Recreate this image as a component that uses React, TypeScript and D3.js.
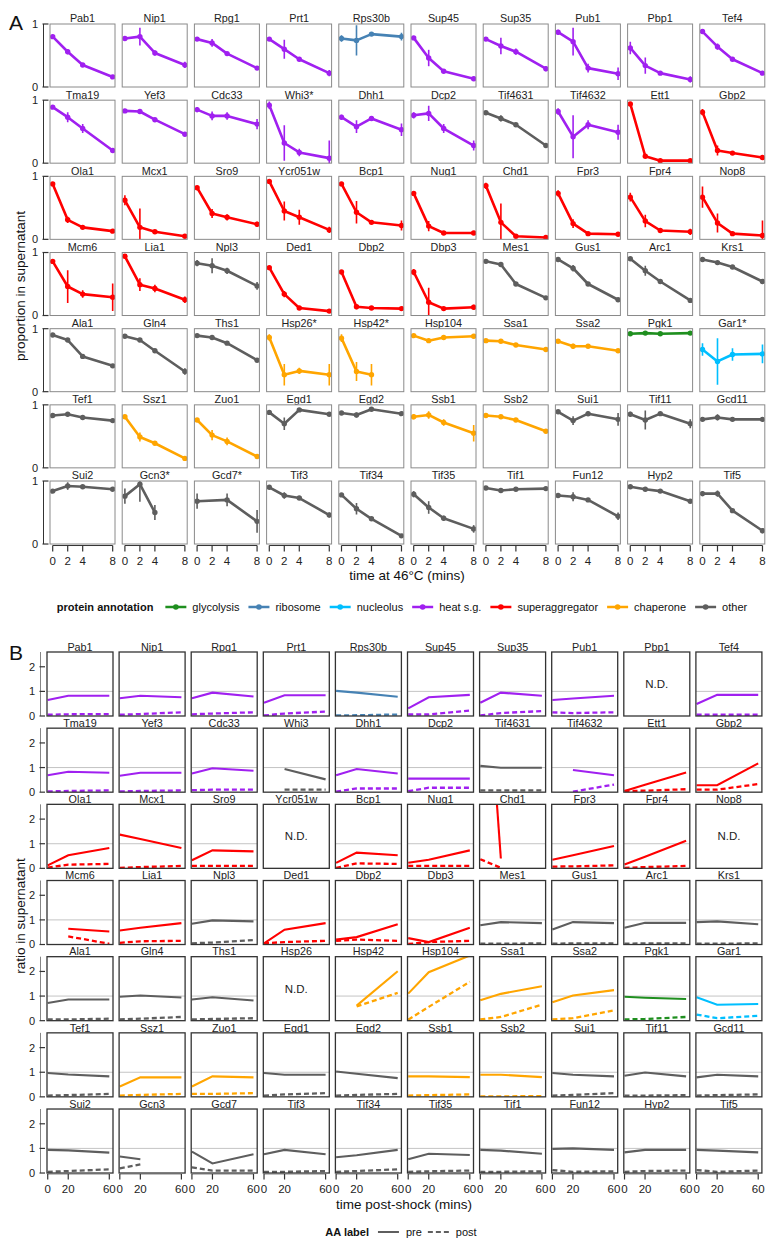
import React, { useEffect, useRef } from 'react';
import * as d3 from 'd3';

const W = 767;
const H = 1239;
const FONT = '"Liberation Sans", Arial, Helvetica, sans-serif';

// annotation legend
const annotationNames = ['glycolysis', 'ribosome', 'nucleolus', 'heat s.g.', 'superaggregator', 'chaperone', 'other'];
const annotationColors = ['#1f8f1f', '#4682b4', '#00bfff', '#a020f0', '#ff0000', '#ffa500', '#5e5e5e'];
// G glycolysis, R ribosome, N nucleolus, H heat s.g., S superaggregator, C chaperone, O other
const annotationCode: Record<string, number> = { G: 0, R: 1, N: 2, H: 3, S: 4, C: 5, O: 6 };

const namesA = [
  'Pab1', 'Nip1', 'Rpg1', 'Prt1', 'Rps30b', 'Sup45', 'Sup35', 'Pub1', 'Pbp1', 'Tef4',
  'Tma19', 'Yef3', 'Cdc33', 'Whi3*', 'Dhh1', 'Dcp2', 'Tif4631', 'Tif4632', 'Ett1', 'Gbp2',
  'Ola1', 'Mcx1', 'Sro9', 'Ycr051w', 'Bcp1', 'Nug1', 'Chd1', 'Fpr3', 'Fpr4', 'Nop8',
  'Mcm6', 'Lia1', 'Npl3', 'Ded1', 'Dbp2', 'Dbp3', 'Mes1', 'Gus1', 'Arc1', 'Krs1',
  'Ala1', 'Gln4', 'Ths1', 'Hsp26*', 'Hsp42*', 'Hsp104', 'Ssa1', 'Ssa2', 'Pgk1', 'Gar1*',
  'Tef1', 'Ssz1', 'Zuo1', 'Egd1', 'Egd2', 'Ssb1', 'Ssb2', 'Sui1', 'Tif11', 'Gcd11',
  'Sui2', 'Gcn3*', 'Gcd7*', 'Tif3', 'Tif34', 'Tif35', 'Tif1', 'Fun12', 'Hyp2', 'Tif5',
];
const namesB = namesA.map(n => n.replace('*', ''));

const annotA = 'HHHHRHHHHH' + 'HHHHHHOHSS' + 'SSSSSSSSSS' + 'SSOSSSOOOO' + 'OOOCCCCCGN' + 'OCCOOCCOOO' + 'OOOOOOOOOO';
const annotB = 'HHHHRHHHHH' + 'HHHOHHOHSS' + 'SSSSSSSSSS' + 'SSOSSSOOOO' + 'OOOCCCCCGN' + 'OCCOOCCOOO' + 'OOOOOOOOOO';

// panel A: proportion in supernatant at 46°C
const timesA = [0, 2, 4, 8];
const propMean: (number | null)[][] = [
  [0.80, 0.56, 0.35, 0.16], [0.77, 0.80, 0.54, 0.35], [0.76, 0.70, 0.53, 0.30], [0.76, 0.60, 0.44, 0.22], [0.77, 0.74, 0.84, 0.80],
  [0.78, 0.46, 0.25, 0.13], [0.76, 0.65, 0.56, 0.29], [0.87, 0.72, 0.30, 0.21], [0.62, 0.34, 0.22, 0.12], [0.88, 0.64, 0.44, 0.22],
  [0.89, 0.73, 0.55, 0.20], [0.83, 0.82, 0.69, 0.46], [0.85, 0.75, 0.75, 0.62], [0.92, 0.32, 0.17, 0.08], [0.73, 0.58, 0.71, 0.53],
  [0.76, 0.79, 0.55, 0.28], [0.80, 0.71, 0.61, 0.28], [0.82, 0.42, 0.61, 0.49], [0.94, 0.11, 0.04, 0.04], [0.81, 0.20, 0.16, 0.09],
  [0.88, 0.31, 0.19, 0.13], [0.62, 0.19, 0.12, 0.05], [0.82, 0.41, 0.35, 0.24], [0.92, 0.45, 0.35, 0.15], [0.88, 0.43, 0.27, 0.22],
  [0.73, 0.21, 0.10, 0.10], [0.85, 0.27, 0.05, 0.03], [0.73, 0.25, 0.09, 0.08], [0.67, 0.29, 0.14, 0.12], [0.67, 0.26, 0.09, 0.06],
  [0.86, 0.46, 0.34, 0.29], [0.94, 0.49, 0.43, 0.25], [0.83, 0.79, 0.71, 0.47], [0.76, 0.34, 0.12, 0.07], [0.69, 0.14, 0.12, 0.11],
  [0.69, 0.21, 0.11, 0.13], [0.86, 0.81, 0.50, 0.28], [0.89, 0.75, 0.50, 0.25], [0.90, 0.71, 0.54, 0.24], [0.89, 0.84, 0.77, 0.54],
  [0.90, 0.82, 0.56, 0.41], [0.88, 0.82, 0.65, 0.32], [0.89, 0.86, 0.77, 0.50], [0.86, 0.27, 0.33, 0.27], [0.85, 0.32, 0.27, null],
  [0.89, 0.81, 0.86, 0.88], [0.81, 0.80, 0.74, 0.67], [0.80, 0.72, 0.72, 0.65], [0.92, 0.93, 0.92, 0.93], [0.67, 0.48, 0.59, 0.60],
  [0.83, 0.85, 0.80, 0.75], [0.81, 0.49, 0.39, 0.15], [0.76, 0.52, 0.42, 0.18], [0.88, 0.70, 0.92, 0.85], [0.87, 0.84, 0.93, 0.86],
  [0.81, 0.84, 0.72, 0.55], [0.83, 0.81, 0.76, 0.58], [0.89, 0.75, 0.86, 0.77], [0.85, 0.76, 0.86, 0.70], [0.77, 0.80, 0.77, 0.77],
  [0.84, 0.92, 0.91, 0.87], [0.76, 0.95, 0.50, null], [0.68, null, 0.70, 0.36], [0.90, 0.77, 0.73, 0.46], [0.78, 0.56, 0.40, 0.13],
  [0.79, 0.58, 0.41, 0.24], [0.89, 0.85, 0.87, 0.88], [0.77, 0.75, 0.70, 0.44], [0.91, 0.87, 0.84, 0.68], [0.80, 0.80, 0.53, 0.21],
];
const propErr: (number | null)[][] = [
  [0.03, 0.04, 0.02, 0.02], [0.03, 0.14, 0.04, 0.05], [0.02, 0.06, 0.02, 0.02], [0.03, 0.15, 0.03, 0.05], [0.05, 0.24, 0.02, 0.06],
  [0.02, 0.13, 0.02, 0.02], [0.03, 0.13, 0.05, 0.04], [0.04, 0.22, 0.07, 0.10], [0.10, 0.13, 0.03, 0.05], [0.02, 0.05, 0.02, 0.02],
  [0.02, 0.08, 0.07, 0.02], [0.02, 0.02, 0.02, 0.02], [0.04, 0.07, 0.06, 0.08], [0.06, 0.28, 0.06, 0.28], [0.04, 0.10, 0.03, 0.10],
  [0.05, 0.12, 0.07, 0.08], [0.02, 0.05, 0.02, 0.02], [0.05, 0.34, 0.07, 0.12], [0.02, 0.02, 0.01, 0.02], [0.05, 0.08, 0.02, 0.02],
  [0.02, 0.05, 0.02, 0.02], [0.08, 0.30, 0.03, 0.02], [0.02, 0.07, 0.05, 0.04], [0.02, 0.15, 0.12, 0.05], [0.03, 0.18, 0.02, 0.08],
  [0.03, 0.08, 0.02, 0.02], [0.05, 0.30, 0.02, 0.02], [0.05, 0.07, 0.02, 0.02], [0.07, 0.10, 0.02, 0.05], [0.17, 0.15, 0.02, 0.24],
  [0.03, 0.26, 0.06, 0.22], [0.02, 0.10, 0.06, 0.05], [0.05, 0.12, 0.05, 0.06], [0.02, 0.05, 0.02, 0.02], [0.03, 0.04, 0.02, 0.02],
  [0.05, 0.23, 0.02, 0.04], [0.02, 0.02, 0.02, 0.02], [0.02, 0.05, 0.02, 0.02], [0.02, 0.08, 0.04, 0.02], [0.02, 0.02, 0.02, 0.02],
  [0.02, 0.02, 0.02, 0.02], [0.02, 0.02, 0.02, 0.05], [0.02, 0.02, 0.02, 0.02], [0.05, 0.17, 0.05, 0.17], [0.06, 0.15, 0.17, null],
  [0.02, 0.03, 0.02, 0.02], [0.02, 0.02, 0.02, 0.02], [0.02, 0.04, 0.02, 0.02], [0.02, 0.02, 0.02, 0.02], [0.10, 0.37, 0.10, 0.15],
  [0.02, 0.02, 0.02, 0.02], [0.02, 0.07, 0.02, 0.02], [0.02, 0.08, 0.06, 0.02], [0.02, 0.10, 0.02, 0.02], [0.02, 0.04, 0.02, 0.02],
  [0.04, 0.06, 0.05, 0.13], [0.02, 0.02, 0.02, 0.02], [0.02, 0.07, 0.04, 0.10], [0.04, 0.15, 0.02, 0.07], [0.02, 0.05, 0.02, 0.02],
  [0.02, 0.06, 0.02, 0.02], [0.12, 0.28, 0.12, null], [0.12, null, 0.10, 0.18], [0.02, 0.05, 0.02, 0.04], [0.02, 0.09, 0.02, 0.02],
  [0.05, 0.10, 0.04, 0.06], [0.02, 0.02, 0.02, 0.02], [0.03, 0.07, 0.02, 0.06], [0.02, 0.03, 0.02, 0.03], [0.04, 0.05, 0.03, 0.04],
];

// panel B: ratio in supernatant post-shock, pre-existing vs newly made; null rows = N.D.
const timesB = [0, 20, 60];
const preRatio: (number | null)[][] = [
  [0.65, 0.82, 0.82], [0.72, 0.82, 0.76], [0.72, 0.95, 0.79], [0.54, 0.84, 0.84], [1.02, 0.95, 0.78],
  [0.31, 0.76, 0.86], [0.54, 0.95, 0.82], [0.65, 0.71, 0.82], [null, null, null], [0.49, 0.86, 0.86],
  [0.69, 0.83, 0.79], [0.67, 0.79, 0.79], [0.76, 0.97, 0.87], [null, 0.94, 0.52], [0.69, 0.94, 0.76],
  [0.55, 0.55, 0.55], [1.07, 0.99, 0.99], [null, 0.90, 0.69], [0.05, 0.30, 0.80], [0.28, 0.28, 1.17],
  [0.12, 0.53, 0.83], [1.37, 1.19, 0.83], [0.33, 0.73, 0.69], [null, null, null], [0.22, 0.64, 0.53],
  [0.23, 0.35, 0.73], [12.0, 0.40, null], [0.35, 0.53, 0.91], [0.16, 0.47, 1.12], [null, null, null],
  [null, 0.64, 0.53], [0.57, 0.68, 0.87], [0.84, 0.98, 0.94], [0.05, 0.60, 0.87], [0.20, 0.30, 0.82],
  [0.26, 0.10, 0.68], [0.78, 0.91, 0.87], [0.61, 0.91, 0.87], [0.68, 0.88, 0.88], [0.91, 0.94, 0.82],
  [0.72, 0.86, 0.86], [0.97, 1.02, 0.94], [0.86, 0.95, 0.82], [null, null, null], [null, 0.61, 2.01],
  [1.10, 1.97, 2.65], [0.83, 1.09, 1.40], [0.75, 1.02, 1.24], [0.97, 0.93, 0.88], [0.95, 0.65, 0.68],
  [0.97, 0.91, 0.83], [0.42, 0.79, 0.79], [0.42, 0.83, 0.79], [0.97, 0.90, 0.90], [1.03, 0.94, 0.76],
  [0.83, 0.83, 0.80], [0.90, 0.90, 0.80], [0.97, 0.90, 0.83], [0.86, 0.99, 0.83], [0.79, 0.90, 0.83],
  [0.94, 0.92, 0.83], [0.67, 0.56, null], [0.87, 0.39, 0.76], [0.76, 0.94, 0.76], [0.64, 0.72, 0.94],
  [0.56, 0.78, 0.73], [0.94, 0.91, 0.78], [0.98, 1.00, 0.94], [0.84, 0.94, 0.94], [0.94, 0.91, 0.84],
];
const postRatio: (number | null)[][] = [
  [0.05, 0.07, 0.08], [0.05, 0.08, 0.15], [0.07, 0.10, 0.15], [0.02, 0.10, 0.18], [0.02, 0.03, 0.06],
  [0.06, 0.06, 0.22], [0.02, 0.12, 0.20], [0.15, 0.12, 0.15], [null, null, null], [0.05, 0.05, 0.05],
  [0.03, 0.05, 0.07], [0.03, 0.05, 0.07], [0.08, 0.10, 0.10], [null, 0.10, 0.10], [0.02, 0.15, 0.15],
  [0.04, 0.18, 0.18], [0.07, 0.07, 0.07], [null, 0.02, 0.31], [0.05, 0.06, 0.12], [0.10, 0.10, 0.33],
  [0.03, 0.15, 0.18], [0.02, 0.05, 0.10], [0.10, 0.10, 0.10], [null, null, null], [0.02, 0.20, 0.18],
  [0.10, 0.10, 0.10], [0.37, 0.02, null], [0.07, 0.08, 0.12], [0.02, 0.05, 0.10], [null, null, null],
  [null, 0.33, 0.03], [0.07, 0.13, 0.15], [0.05, 0.08, 0.18], [0.05, 0.10, 0.15], [0.15, 0.20, 0.15],
  [0.02, 0.10, 0.15], [0.03, 0.03, 0.05], [0.03, 0.05, 0.05], [0.03, 0.05, 0.05], [0.03, 0.03, 0.05],
  [0.05, 0.05, 0.08], [0.05, 0.08, 0.15], [0.05, 0.07, 0.10], [null, null, null], [null, 0.58, 1.13],
  [0.04, 0.56, 1.58], [0.05, 0.15, 0.65], [0.05, 0.10, 0.42], [0.05, 0.07, 0.15], [0.25, 0.10, 0.20],
  [0.05, 0.07, 0.12], [0.05, 0.08, 0.12], [0.12, 0.12, 0.15], [0.05, 0.10, 0.15], [0.05, 0.08, 0.12],
  [0.05, 0.07, 0.10], [0.02, 0.02, 0.03], [0.05, 0.08, 0.15], [0.05, 0.05, 0.07], [0.05, 0.07, 0.10],
  [0.05, 0.08, 0.15], [0.19, 0.35, null], [0.23, 0.10, 0.10], [0.05, 0.05, 0.08], [0.05, 0.08, 0.15],
  [0.05, 0.07, 0.10], [0.05, 0.05, 0.07], [0.12, 0.05, 0.07], [0.05, 0.08, 0.10], [0.12, 0.05, 0.10],
];

const ticksA = [0, 1];
const ticksB = [0, 1, 2];
const labelLegendA = 'protein annotation';
const labelLegendB = 'AA label';
const aaLabels = ['pre', 'post'];

type Sel = d3.Selection<SVGGElement, unknown, null, undefined>;

function colorOf(code: string) {
  return annotationColors[annotationCode[code]];
}

function drawPanelA(root: Sel) {
  const pw = 65, ph = 63;
  const colX = (c: number) => 50 + c * 72.2;
  const rowY = (r: number) => 24 + r * 76.17;
  const x = d3.scaleLinear().domain([-0.36, 8.31]).range([0, pw]);
  const y = d3.scaleLinear().domain([0, 1]).range([ph, 0]);
  const line = d3.line<{ t: number; v: number }>().x(d => x(d.t)).y(d => y(d.v));

  root.append('defs').append('clipPath').attr('id', 'clipA')
    .append('rect').attr('width', pw).attr('height', ph);

  root.append('text').attr('x', 9).attr('y', 30).attr('font-size', 21).attr('fill', '#111').text('A');

  namesA.forEach((name, k) => {
    const r = Math.floor(k / 10), c = k % 10;
    const color = colorOf(annotA[k]);
    const g = root.append('g').attr('transform', `translate(${colX(c)},${rowY(r)})`);
    g.append('text').attr('x', pw / 2).attr('y', -1.6).attr('text-anchor', 'middle')
      .attr('font-size', 10.8).attr('fill', '#222').text(name);
    g.append('rect').attr('width', pw).attr('height', ph).attr('fill', '#fff');

    const pts = timesA.map((t, i) => ({ t, v: propMean[k][i] as number, e: (propErr[k][i] ?? 0) as number }))
      .filter(d => d.v != null);
    const m = g.append('g').attr('clip-path', 'url(#clipA)');
    m.selectAll('line').data(pts).join('line')
      .attr('x1', d => x(d.t)).attr('x2', d => x(d.t))
      .attr('y1', d => y(d.v - d.e)).attr('y2', d => y(d.v + d.e))
      .attr('stroke', color).attr('stroke-width', 1.6);
    m.append('path').attr('d', line(pts)).attr('fill', 'none').attr('stroke', color)
      .attr('stroke-width', 2.6).attr('stroke-linejoin', 'round');
    m.selectAll('circle').data(pts).join('circle')
      .attr('cx', d => x(d.t)).attr('cy', d => y(d.v)).attr('r', 2.7).attr('fill', color);
    g.append('rect').attr('width', pw).attr('height', ph).attr('fill', 'none')
      .attr('stroke', '#8a8a8a').attr('stroke-width', 1);

    if (c === 0) {
      const ax = g.append('g');
      ax.append('line').attr('x1', -6.5).attr('x2', -6.5).attr('y1', y(0)).attr('y2', y(1))
        .attr('stroke', '#333').attr('stroke-width', 1);
      ticksA.forEach(t => {
        ax.append('line').attr('x1', -7.5).attr('x2', -1.5).attr('y1', y(t)).attr('y2', y(t))
          .attr('stroke', '#333').attr('stroke-width', 1.2);
        ax.append('text').attr('x', -12).attr('y', y(t)).attr('dy', '0.36em').attr('text-anchor', 'end')
          .attr('font-size', 11).attr('fill', '#222').text(t);
      });
    }
    if (r === 6) {
      const ax = g.append('g').attr('transform', `translate(0,${ph + 1.5})`);
      ax.append('line').attr('x1', x(0)).attr('x2', x(8)).attr('stroke', '#333').attr('stroke-width', 1);
      timesA.forEach(t => {
        ax.append('line').attr('x1', x(t)).attr('x2', x(t)).attr('y1', 0).attr('y2', 6)
          .attr('stroke', '#333').attr('stroke-width', 1.2);
        ax.append('text').attr('x', x(t)).attr('y', 19.5).attr('text-anchor', 'middle')
          .attr('font-size', 11.5).attr('fill', '#222').text(t);
      });
    }
  });

  root.append('text').attr('x', 407).attr('y', 580).attr('text-anchor', 'middle')
    .attr('font-size', 13.5).attr('fill', '#111').text('time at 46°C (mins)');
  root.append('text').attr('transform', 'translate(20,286) rotate(-90)').attr('text-anchor', 'middle')
    .attr('dy', '0.35em').attr('font-size', 13.5).attr('fill', '#111').text('proportion in supernatant');

  // legend
  const lg = root.append('g');
  let cx = 0;
  const title = lg.append('text').attr('x', 0).attr('y', 0).attr('dy', '0.35em').attr('font-size', 11)
    .attr('font-weight', 'bold').attr('fill', '#111').text(labelLegendA);
  cx += (title.node() as SVGTextElement).getComputedTextLength() + 12;
  annotationNames.forEach((nm, i) => {
    lg.append('line').attr('x1', cx).attr('x2', cx + 21).attr('stroke', annotationColors[i]).attr('stroke-width', 2.5);
    lg.append('circle').attr('cx', cx + 10.5).attr('cy', 0).attr('r', 2.8).attr('fill', annotationColors[i]);
    cx += 27;
    const t = lg.append('text').attr('x', cx).attr('y', 0).attr('dy', '0.35em').attr('font-size', 11)
      .attr('fill', '#111').text(nm);
    cx += (t.node() as SVGTextElement).getComputedTextLength() + 9;
  });
  cx -= 9;
  lg.attr('transform', `translate(${402 - cx / 2},607)`);
}

function drawPanelB(root: Sel) {
  const pw = 66, ph = 64;
  const colX = (c: number) => 47 + c * 72.1;
  const rowY = (r: number) => 652 + r * 76.17;
  const x = d3.scaleLinear().domain([-0.7, 63.6]).range([0, pw]);
  const y = d3.scaleLinear().domain([0, 2.6]).range([ph, 0]);
  const line = d3.line<{ t: number; v: number }>().x(d => x(d.t)).y(d => y(d.v));

  root.append('defs').append('clipPath').attr('id', 'clipB')
    .append('rect').attr('width', pw).attr('height', ph);

  root.append('text').attr('x', 9).attr('y', 660).attr('font-size', 21).attr('fill', '#111').text('B');

  namesB.forEach((name, k) => {
    const r = Math.floor(k / 10), c = k % 10;
    const color = colorOf(annotB[k]);
    const g = root.append('g').attr('transform', `translate(${colX(c)},${rowY(r)})`);
    g.append('text').attr('x', pw / 2).attr('y', -1.2).attr('text-anchor', 'middle')
      .attr('font-size', 10.8).attr('fill', '#222').text(name);
    g.append('rect').attr('width', pw).attr('height', ph).attr('fill', '#fff');

    const nd = preRatio[k].every(v => v == null);
    if (nd) {
      g.append('text').attr('x', pw / 2).attr('y', ph / 2).attr('dy', '0.35em').attr('text-anchor', 'middle')
        .attr('font-size', 11.5).attr('fill', '#222').text('N.D.');
    } else {
      g.append('line').attr('x1', 0).attr('x2', pw).attr('y1', y(1)).attr('y2', y(1))
        .attr('stroke', '#c4c4c4').attr('stroke-width', 1);
      const m = g.append('g').attr('clip-path', 'url(#clipB)');
      [preRatio, postRatio].forEach((series, si) => {
        const pts = timesB.map((t, i) => ({ t, v: series[k][i] as number })).filter(d => d.v != null);
        m.append('path').attr('d', line(pts)).attr('fill', 'none').attr('stroke', color)
          .attr('stroke-width', si === 1 ? 2.3 : 2.1).attr('stroke-dasharray', si === 1 ? '5,3' : null);
      });
    }
    g.append('rect').attr('width', pw).attr('height', ph).attr('fill', 'none')
      .attr('stroke', '#333').attr('stroke-width', 1.3);

    if (c === 0) {
      const ax = g.append('g');
      ax.append('line').attr('x1', -6.5).attr('x2', -6.5).attr('y1', 0).attr('y2', ph)
        .attr('stroke', '#666').attr('stroke-width', 0.8);
      ticksB.forEach(t => {
        ax.append('line').attr('x1', -7.5).attr('x2', -2).attr('y1', y(t)).attr('y2', y(t))
          .attr('stroke', '#333').attr('stroke-width', 1.2);
        ax.append('text').attr('x', -12).attr('y', y(t)).attr('dy', '0.36em').attr('text-anchor', 'end')
          .attr('font-size', 11).attr('fill', '#222').text(t);
      });
    }
    if (r === 6) {
      const ax = g.append('g').attr('transform', `translate(0,${ph + 1})`);
      ax.append('line').attr('x1', x(0)).attr('x2', x(60)).attr('stroke', '#666').attr('stroke-width', 0.8);
      timesB.forEach(t => {
        ax.append('line').attr('x1', x(t)).attr('x2', x(t)).attr('y1', 0).attr('y2', 5.5)
          .attr('stroke', '#333').attr('stroke-width', 1.2);
        ax.append('text').attr('x', x(t)).attr('y', 18.5).attr('text-anchor', 'middle')
          .attr('font-size', 11.5).attr('fill', '#222').text(t);
      });
    }
  });

  root.append('text').attr('x', 404).attr('y', 1209).attr('text-anchor', 'middle')
    .attr('font-size', 13.5).attr('fill', '#111').text('time post-shock (mins)');
  root.append('text').attr('transform', 'translate(20,916) rotate(-90)').attr('text-anchor', 'middle')
    .attr('dy', '0.35em').attr('font-size', 13.5).attr('fill', '#111').text('ratio in supernatant');

  // legend
  const lg = root.append('g');
  let cx = 0;
  const title = lg.append('text').attr('x', 0).attr('y', 0).attr('dy', '0.35em').attr('font-size', 11)
    .attr('font-weight', 'bold').attr('fill', '#111').text(labelLegendB);
  cx += (title.node() as SVGTextElement).getComputedTextLength() + 9;
  aaLabels.forEach((lab, i) => {
    lg.append('line').attr('x1', cx).attr('x2', cx + 21).attr('stroke', '#5e5e5e').attr('stroke-width', 2)
      .attr('stroke-dasharray', i === 1 ? '5,3' : null);
    cx += 28;
    const t = lg.append('text').attr('x', cx).attr('y', 0).attr('dy', '0.35em').attr('font-size', 11)
      .attr('fill', '#111').text(lab);
    cx += (t.node() as SVGTextElement).getComputedTextLength() + 6;
  });
  cx -= 6;
  lg.attr('transform', `translate(${401 - cx / 2},1232)`);
}

export default function App() {
  const svgRef = useRef<SVGSVGElement>(null);

  useEffect(() => {
    document.body.style.margin = '0';
    const svg = d3.select(svgRef.current);
    svg.selectAll('*').remove();
    const root = svg.append('g') as unknown as Sel;
    drawPanelA(root);
    drawPanelB(root);
  }, []);

  return (
    <svg ref={svgRef} width={W} height={H} style={{ display: 'block', background: '#fff' }} fontFamily={FONT} />
  );
}
